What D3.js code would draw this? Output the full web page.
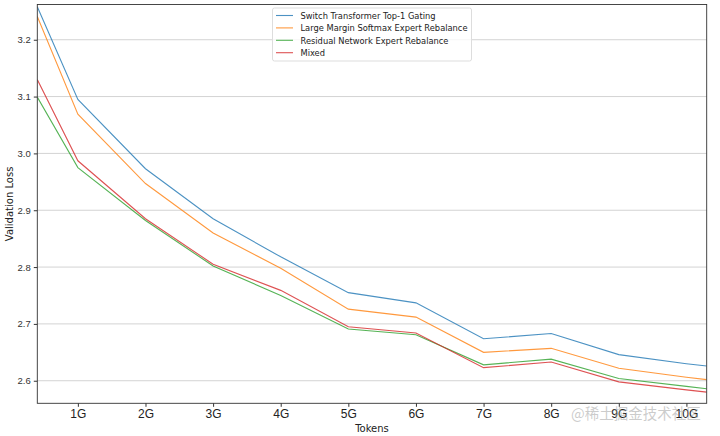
<!DOCTYPE html>
<html>
<head>
<meta charset="utf-8">
<script src="https://cdn.jsdelivr.net/npm/d3@7"></script>
<style>
  body { margin: 0; background: #fff; }
  svg { font-family: "DejaVu Sans", sans-serif; }
</style>
</head>
<body>
<div id="chart"></div>
<script>
// tokens in G
const tokens = [0.4, 1, 2, 3, 4, 5, 6, 7, 8, 9, 10, 10.3];
const xTicks = [1, 2, 3, 4, 5, 6, 7, 8, 9, 10];
const yTicks = [2.6, 2.7, 2.8, 2.9, 3.0, 3.1, 3.2];

const seriesNames = ['Switch Transformer Top-1 Gating', 'Large Margin Softmax Expert Rebalance', 'Residual Network Expert Rebalance', 'Mixed'];
const switchLoss = [3.258, 3.095, 2.973, 2.885, 2.818, 2.755, 2.737, 2.674, 2.683, 2.646, 2.630, 2.626];
const marginLoss = [3.241, 3.069, 2.947, 2.860, 2.798, 2.726, 2.712, 2.650, 2.657, 2.622, 2.606, 2.602];
const residualLoss = [3.099, 2.975, 2.882, 2.802, 2.750, 2.691, 2.681, 2.628, 2.638, 2.604, 2.590, 2.586];
const mixedLoss = [3.130, 2.987, 2.885, 2.805, 2.759, 2.695, 2.684, 2.623, 2.633, 2.598, 2.584, 2.580];
const colors = ['#1f77b4', '#ff7f0e', '#2ca02c', '#d62728'];

const w = 720;
const h = 436;
const plotLeft = 37.3, plotRight = 706.7, plotTop = 4.5, plotBottom = 403.3;

const svg = d3.select('#chart')
              .append('svg')
              .attr('width', w)
              .attr('height', h);

const xScale = d3.scaleLinear()
                 .domain([0.4, 10.3])
                 .range([plotLeft, plotRight]);

const yScale = d3.scaleLinear()
                 .domain([2.5603, 3.262])
                 .range([plotBottom, plotTop]);

// horizontal grid
svg.append('g')
   .selectAll('line')
   .data(yTicks)
   .enter()
   .append('line')
   .attr('x1', plotLeft)
   .attr('x2', plotRight)
   .attr('y1', d => yScale(d))
   .attr('y2', d => yScale(d))
   .attr('stroke', '#d3d3d3')
   .attr('stroke-width', 1);

const xAxis = d3.axisBottom(xScale)
                .tickValues(xTicks)
                .tickSize(3.5)
                .tickPadding(3)
                .tickFormat(d => d + 'G');

const yAxis = d3.axisLeft(yScale)
                .tickValues(yTicks)
                .tickSize(3.5)
                .tickPadding(3)
                .tickFormat(d3.format('.1f'));

const gx = svg.append('g')
              .attr('transform', `translate(0, ${plotBottom})`)
              .call(xAxis);
gx.select('.domain').remove();
gx.selectAll('line').attr('stroke', '#333');
gx.selectAll('text').attr('font-size', 12).attr('fill', '#222');

const gy = svg.append('g')
              .attr('transform', `translate(${plotLeft}, 0)`)
              .call(yAxis);
gy.select('.domain').remove();
gy.selectAll('line').attr('stroke', '#333');
gy.selectAll('text').attr('font-size', 9.5).attr('fill', '#333');

// lines
const allSeries = [switchLoss, marginLoss, residualLoss, mixedLoss];
const line = d3.line()
               .x((d, i) => xScale(tokens[i]))
               .y(d => yScale(d));

svg.append('clipPath')
   .attr('id', 'clip')
   .append('rect')
   .attr('x', plotLeft)
   .attr('y', plotTop)
   .attr('width', plotRight - plotLeft)
   .attr('height', plotBottom - plotTop);

svg.append('g')
   .attr('clip-path', 'url(#clip)')
   .selectAll('path')
   .data(allSeries)
   .enter()
   .append('path')
   .attr('d', d => line(d))
   .attr('fill', 'none')
   .attr('stroke', (d, i) => colors[i])
   .attr('stroke-opacity', 0.8)
   .attr('stroke-width', 1.1);

// spines
svg.append('rect')
   .attr('x', plotLeft)
   .attr('y', plotTop)
   .attr('width', plotRight - plotLeft)
   .attr('height', plotBottom - plotTop)
   .attr('fill', 'none')
   .attr('stroke', '#333')
   .attr('stroke-width', 0.9);

// axis labels
svg.append('text')
   .attr('x', (plotLeft + plotRight) / 2)
   .attr('y', 432)
   .attr('text-anchor', 'middle')
   .attr('font-size', 10)
   .attr('fill', '#222')
   .text('Tokens');

svg.append('text')
   .attr('transform', `translate(13, ${(plotTop + plotBottom) / 2}) rotate(-90)`)
   .attr('text-anchor', 'middle')
   .attr('font-size', 10)
   .attr('fill', '#222')
   .text('Validation Loss');

// legend
const legend = svg.append('g').attr('transform', 'translate(272.5, 8)');
legend.append('rect')
      .attr('width', 199)
      .attr('height', 53)
      .attr('rx', 2)
      .attr('fill', '#fff')
      .attr('fill-opacity', 0.8)
      .attr('stroke', '#ddd');

const items = legend.selectAll('g.item')
                    .data(seriesNames)
                    .enter()
                    .append('g')
                    .attr('class', 'item')
                    .attr('transform', (d, i) => `translate(0, ${7.5 + i * 12.4})`);
items.append('line')
     .attr('x1', 3.5)
     .attr('x2', 20.5)
     .attr('stroke', (d, i) => colors[i])
     .attr('stroke-opacity', 0.8)
     .attr('stroke-width', 1.1);
items.append('text')
     .attr('x', 28)
     .attr('y', 3.2)
     .attr('font-size', 8.3)
     .attr('fill', '#222')
     .text(d => d);

// watermark (sits over the last tick labels, as in the source image)
svg.append('text')
   .attr('x', 571)
   .attr('y', 419)
   .attr('font-family', '"Noto Sans CJK SC", sans-serif')
   .attr('font-size', 14.5)
   .attr('fill', '#999')
   .attr('fill-opacity', 0.5)
   .text('@稀土掘金技术社区');
</script>
</body>
</html>
